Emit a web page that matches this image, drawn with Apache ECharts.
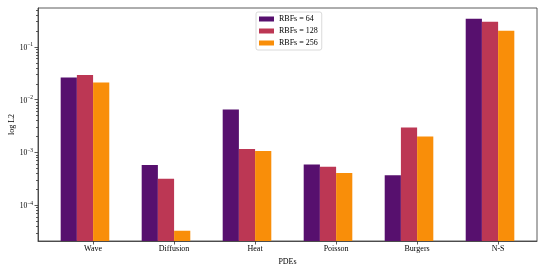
<!DOCTYPE html>
<html><head><meta charset="utf-8">
<script src="https://cdn.jsdelivr.net/npm/echarts@6/dist/echarts.min.js"></script>
<style>html,body{margin:0;padding:0;background:#fff}#c{width:545px;height:273px}</style>
</head><body><div id="c"></div>
<script>
const categories = ['Wave', 'Diffusion', 'Heat', 'Poisson', 'Burgers', 'N-S'];
const seriesNames = ['RBFs = 64', 'RBFs = 128', 'RBFs = 256'];
const rbf64  = [0.0264, 5.8e-4, 6.5e-3, 5.9e-4, 3.7e-4, 0.342];
const rbf128 = [0.0294, 3.2e-4, 1.16e-3, 5.4e-4, 2.99e-3, 0.300];
const rbf256 = [0.0213, 3.3e-5, 1.07e-3, 4.1e-4, 2.02e-3, 0.203];
const yMajorTicks = [1e-4, 1e-3, 1e-2, 1e-1];
const yMajorLabels = ['−4', '−3', '−2', '−1'];
const yMin = 2.11e-5, yMax = 0.546;

const colors = ['#57106e', '#bc3754', '#f98e09'];
const font = 'Liberation Serif';
const tickOffset = 0.1;
const xTicks = categories.map((c, i) => i + tickOffset);
const minorTicks = [];
for (let e = -5; e <= -1; e++) for (let m = 2; m <= 9; m++) {
  const v = m * Math.pow(10, e);
  if (v > yMin && v < yMax) minorTicks.push(v);
}
const allSeries = [rbf64, rbf128, rbf256];

const chart = echarts.init(document.getElementById('c'));
chart.setOption({
  animation: false,
  color: colors,
  grid: { left: 38, right: 8, top: 8, bottom: 32, outerBoundsMode: 'none', containLabel: false,
    show: true, borderColor: '#333', borderWidth: 0.8, backgroundColor: 'transparent' },
  legend: {
    orient: 'vertical', left: 256, top: 12,
    data: seriesNames, icon: 'rect', itemWidth: 15, itemHeight: 5, itemGap: 4,
    padding: [3, 4, 3, 3], borderColor: '#d0d0d0', borderWidth: 0.8, borderRadius: 2,
    backgroundColor: '#fff',
    textStyle: { fontFamily: font, fontSize: 8, color: '#000', lineHeight: 8 }
  },
  xAxis: {
    type: 'value', min: -0.58, max: 5.58,
    name: 'PDEs', nameLocation: 'middle', nameGap: 17, nameMoveOverlap: false,
    nameTextStyle: { fontFamily: font, fontSize: 8, color: '#000' },
    axisLine: { show: true, onZero: false, lineStyle: { color: '#333', width: 0.8 } },
    axisTick: { show: true, length: 3.5, customValues: xTicks, lineStyle: { color: '#333', width: 0.8 } },
    axisLabel: { customValues: xTicks, margin: 4, fontFamily: font, fontSize: 8, color: '#000',
      formatter: v => categories[Math.round(v - tickOffset)] },
    splitLine: { show: false }
  },
  yAxis: [{
    type: 'log', min: yMin, max: yMax, position: 'left', startValue: yMin,
    name: 'log L2', nameLocation: 'middle', nameGap: 22, nameMoveOverlap: false,
    nameTextStyle: { fontFamily: font, fontSize: 8, color: '#000' },
    axisLine: { show: true, onZero: false, lineStyle: { color: '#333', width: 0.8 } },
    axisTick: { show: true, length: 3.5, customValues: yMajorTicks, lineStyle: { color: '#333', width: 0.8 } },
    axisLabel: { customValues: yMajorTicks, margin: 5, color: '#000',
      formatter: v => { const i = yMajorTicks.findIndex(t => Math.abs(Math.log10(t) - Math.log10(v)) < 1e-6); return i < 0 ? '' : '{b|10}{s|' + yMajorLabels[i] + '}'; },
      fontFamily: font, fontSize: 7.5,
      rich: {
        b: { fontFamily: font, fontSize: 7.5, color: '#000', verticalAlign: 'bottom', lineHeight: 10, padding: [3, 0, 0, 0] },
        s: { fontFamily: font, fontSize: 5.5, color: '#000', verticalAlign: 'top', lineHeight: 10 }
      } },
    splitLine: { show: false }
  }, {
    type: 'log', min: yMin, max: yMax, position: 'left',
    axisLine: { show: false, onZero: false },
    axisTick: { show: true, length: 2, customValues: minorTicks, lineStyle: { color: '#333', width: 0.8 } },
    axisLabel: { show: false },
    splitLine: { show: false }
  }],
  series: allSeries.map((vals, s) => ({
    type: 'bar', name: seriesNames[s], yAxisIndex: 0,
    barWidth: '20%', barGap: '0%',
    itemStyle: { color: colors[s] },
    data: vals.map((v, i) => [i, v])
  }))
});
</script></body></html>
